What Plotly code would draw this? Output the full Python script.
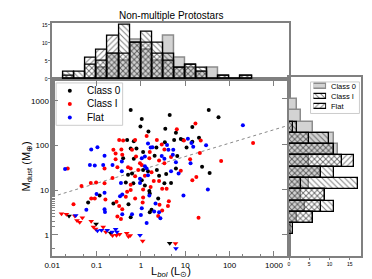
import numpy as np
import plotly.graph_objects as go

# ---------------- data (log10 values) ----------------
class0_logL = [-0.23, 0.02, -0.01, 0.17, 0.55, 0.65, 1.16, 1.53, 1.75, 0.79, 1.31, 0.54, 0.75, 0.90, 0.95,
               1.16, 0.35, 1.03, -0.10, 0.05, 0.31, 0.82, 1.38, 1.55, 0.05, 0.16, 0.57, 0.79, 0.36, -0.31,
               -0.16, -0.23, -0.40, -0.16, -0.29, -0.20, -0.34, -0.17, -0.93, -1.19, -0.62, -0.28, -0.23,
               0.41, 0.68, 0.53, 0.02, 0.09, 0.19, 0.39, 0.24, 0.20, 0.20]
class0_logM = [2.79, 2.59, 2.42, 2.31, 2.37, 2.68, 2.41, 2.79, 2.63, 2.28, 2.17, 2.07, 2.12, 2.14, 2.12,
               2.08, 1.95, 1.95, 1.93, 1.85, 1.77, 1.76, 1.52, 1.38, 1.45, 1.42, 1.36, 1.48, 1.45, 2.12,
               2.09, 1.93, 1.71, 1.70, 1.34, 1.37, 1.17, 1.15, 0.88, 0.72, 0.70, 0.68, 0.39,
               1.32, 1.16, 1.15, 1.22, 1.10, 0.98, 0.81, 0.56, 0.50, 0.92]
class0_lim_logL = [-1.62, -1.01, -0.68, 0.65]
class0_lim_logM = [0.42, 0.24, 0.03, -0.19]

classI_logL = [1.23, 0.81, 0.13, -0.13, 0.36, 0.97, 1.35, 0.47, 0.53, 0.20, -0.11, 0.68, 0.19, 0.41, 1.11,
               1.33, 1.81, -0.02, 0.02, -0.06, 0.24, 0.53, 2.53, -0.49, -0.40, -0.62, -0.57, -0.44, -0.20,
               -0.42, -0.57, -0.82, -1.65, -0.53, -0.29, -0.23, -0.64, -1.01, -1.13, -0.82, -1.34, -0.23,
               -1.12, -1.04, -0.80, -0.31, -0.23, -0.34, -0.55, -0.49, -1.52, -0.42, -0.53, -0.45, -0.13,
               0.09, 0.29, 0.41, 0.22, 0.48, 0.58, 0.05, 0.05, -0.13, 0.04, 0.42, 0.63, 0.61, 0.48, 0.39,
               1.16, 1.25, 1.30, 0.90]
classI_logM = [2.49, 2.36, 2.21, 2.12, 2.12, 2.11, 2.11, 2.02, 1.91, 1.85, 1.75, 1.74, 1.71, 1.66, 1.69,
               1.83, 1.65, 1.60, 1.56, 1.45, 1.40, 1.60, 2.05, 2.12, 2.11, 1.90, 1.82, 1.91, 1.90,
               1.79, 1.69, 1.48, 1.48, 1.51, 1.51, 1.48, 1.27, 1.17, 1.16, 1.15, 1.09, 1.12,
               0.81, 0.81, 0.79, 0.96, 1.00, 0.85, 0.74, 0.64, 0.68, 0.57, 0.41, 0.35, 1.31,
               1.32, 1.20, 1.20, 1.07, 1.03, 1.03, 1.01, 0.83, 0.81, 0.72, 0.67, 0.75, 0.64, 0.54, 0.42,
               1.22, 1.29, 0.38, 1.43]
classI_lim_logL = [-1.79, -1.68, -1.49, -1.44, -1.38, -1.32, -1.12, -1.07, -1.02, -0.85, -0.79, -0.64,
                   -0.55, -0.48, -0.32, -0.28, -0.24, 0.04, 0.78]
classI_lim_logM = [0.47, 0.46, 0.42, 0.32, 0.28, 0.38, 0.30, 0.17, 0.13, 0.17, 0.06, -0.02,
                   -0.01, 0.01, 0.03, -0.04, -0.02, -0.14, -0.20]

flat_logL = [2.30, 1.06, 0.16, 0.22, 0.26, 0.59, 1.14, 1.47, 1.18, 0.62, 0.73, 0.09, 0.02, 0.47, 0.72,
             0.53, 0.79, 1.12, 0.09, 0.13, 0.68, 0.85, -1.12, -0.98, -0.82, -0.43, -1.15, -1.04, -0.85,
             -0.64, -1.71, -0.43, -0.45, -1.00, -0.82, -0.42, -0.47, -1.23, -0.82, -0.81, -0.42, -0.20,
             0.16, -0.02, -0.02, 0.19, 0.33, 0.02, 0.30, 0.41, 0.44, 0.00, 0.13, 0.96, 1.51]
flat_logM = [2.45, 2.15, 2.04, 1.95, 1.96, 2.01, 2.05, 2.00, 1.97, 1.90, 1.90, 1.75, 1.71, 1.76, 1.79,
             1.70, 1.62, 1.60, 1.53, 1.48, 1.42, 1.37, 1.91, 1.96, 1.77, 1.64, 1.56, 1.55, 1.56,
             1.56, 1.47, 1.42, 1.16, 0.91, 0.94, 0.90, 0.86, 0.56, 0.57, 0.51, 0.46, 0.46,
             1.33, 1.25, 1.16, 0.88, 0.70, 0.59, 0.52, 0.50, 0.37, 0.44, 0.26, 0.88, 1.01]
flat_lim_logL = [-1.47, -0.98, -0.89, -0.76, -0.65, -0.57, -0.54, -0.02, 0.79]
flat_lim_logM = [0.43, 0.09, 0.10, 0.10, 0.06, 0.12, 0.06, -0.01, -0.31]

# fit line: log M = a + b log L
fit_intercept = 1.45
fit_slope = 0.30

# histograms (0.25 dex bins)
bin_width = 0.25
lbol_bin_start = -1.75
lbol_hist_class0 = [0, 0, 0, 3, 7, 5, 11, 8, 5, 12, 6, 3, 2, 3, 0, 0, 0]
lbol_hist_classI = [2, 2, 4, 5, 7, 15, 10, 13, 10, 7, 3, 4, 3, 0, 1, 0, 1]
lbol_hist_flat = [1, 0, 6, 8, 12, 7, 10, 10, 7, 5, 3, 4, 2, 0, 1, 0, 1]

mdust_bin_start = 0.0
mdust_hist_class0 = [0, 2, 4, 3, 5, 8, 5, 12, 11, 6, 3, 2]
mdust_hist_classI = [1, 6, 11, 9, 17, 11, 13, 11, 10, 2, 0, 0]
mdust_hist_flat = [0, 6, 8, 9, 3, 8, 16, 11, 5, 1, 0, 0]

class_names = ["Class 0", "Class I", "Flat"]
point_colors = ["black", "#ff0000", "#0000ff"]

x_ticks = [0.01, 0.1, 1, 10, 100, 1000]
x_ticktext = ["0.01", "0.1", "1", "10", "100", "1000"]
y_ticks = [1, 10, 100, 1000]
y_ticktext = ["1", "10", "100", "1000"]

# ---------------- figure ----------------
W, H = 372, 279
XR = [-2, 3.34]
YR = [-0.486, 3.486]
AX = "#808080"
FONT = "Liberation Sans, Arial, sans-serif"


def px(x):
    return x / W


def py(y):
    return 1 - y / H


fig = go.Figure()

xl = np.array(XR)
fig.add_trace(go.Scatter(x=10 ** xl, y=10 ** (fit_intercept + fit_slope * xl), mode="lines",
                         line=dict(color="#888888", width=1, dash="dot"), showlegend=False,
                         hoverinfo="skip", xaxis="x", yaxis="y"))

sets = [(class0_logL, class0_logM, class0_lim_logL, class0_lim_logM),
        (classI_logL, classI_logM, classI_lim_logL, classI_lim_logM),
        (flat_logL, flat_logM, flat_lim_logL, flat_lim_logM)]
for name, col, (lx, ly, llx, lly) in zip(class_names, point_colors, sets):
    fig.add_trace(go.Scatter(x=10 ** np.array(lx), y=10 ** np.array(ly), mode="markers", name=name,
                             marker=dict(color=col, size=4), xaxis="x", yaxis="y", showlegend=False))
    fig.add_trace(go.Scatter(x=10 ** np.array(llx), y=10 ** np.array(lly), mode="markers",
                             marker=dict(color=col, size=5, symbol="triangle-down"),
                             showlegend=False, xaxis="x", yaxis="y"))

lb_centers = lbol_bin_start + bin_width * (np.arange(len(lbol_hist_class0)) + 0.5)
md_centers = mdust_bin_start + bin_width * (np.arange(len(mdust_hist_class0)) + 0.5)

styles = {
    "Class 0": dict(color="#d3d3d3", line=dict(color="#8c8c8c", width=1.5)),
    "Class I": dict(color="rgba(0,0,0,0)", line=dict(color="black", width=1.3),
                    pattern=dict(shape="\\", fgcolor="black", size=4, solidity=0.25, fillmode="overlay")),
    "Flat": dict(color="rgba(0,0,0,0)", line=dict(color="black", width=1.3),
                 pattern=dict(shape="/", fgcolor="black", size=4, solidity=0.25, fillmode="overlay")),
}

for name, top, right in zip(class_names,
                            [lbol_hist_class0, lbol_hist_classI, lbol_hist_flat],
                            [mdust_hist_class0, mdust_hist_classI, mdust_hist_flat]):
    fig.add_trace(go.Bar(x=lb_centers, y=top, width=bin_width, marker=styles[name],
                         showlegend=False, xaxis="x2", yaxis="y2"))
    fig.add_trace(go.Bar(y=md_centers, x=right, width=bin_width, orientation="h", marker=styles[name],
                         showlegend=False, xaxis="x3", yaxis="y3"))

# legend glyphs (histogram legend swatches and scatter legend dots)
legend_rank = [2, 1, 0]
for name, r in zip(class_names, legend_rank):
    fig.add_trace(go.Bar(y=[r], x=[1], width=0.5, orientation="h", marker=styles[name],
                         showlegend=False, hoverinfo="skip", xaxis="x4", yaxis="y4"))
fig.add_trace(go.Scatter(x=[0.5, 0.5, 0.5], y=legend_rank, mode="markers",
                         marker=dict(color=point_colors, size=4), showlegend=False,
                         hoverinfo="skip", xaxis="x5", yaxis="y5"))

main_x_dom = [px(37), px(279)]
main_y_dom = [py(251), py(71)]
hidden = dict(visible=False, showgrid=False, zeroline=False, fixedrange=True)

annotations = [
    dict(text="Non-multiple Protostars", x=px(158), y=py(7), font=dict(size=10)),
    dict(text="L<sub><i>bol</i></sub> (L<sub>⊙</sub>)", x=px(158), y=py(266.5), font=dict(size=11)),
    dict(text="M<sub>dust</sub> (M<sub>⊕</sub>)", x=px(11), y=py(160), font=dict(size=11), textangle=-90),
]
for name, yc in zip(class_names, [82.3, 95.7, 110]):
    annotations.append(dict(text=name, x=px(71), y=py(yc), xanchor="left", font=dict(size=10)))
for name, yc in zip(class_names, [78.3, 89, 99.3]):
    annotations.append(dict(text=name, x=px(320), y=py(yc), xanchor="left", font=dict(size=7.5)))
for a in annotations:
    a.update(xref="paper", yref="paper", showarrow=False)
    a.setdefault("xanchor", "center")
    a.setdefault("yanchor", "middle")

shapes = [
    dict(type="rect", xref="paper", yref="paper", x0=px(41), x1=px(109), y0=py(118), y1=py(75),
         line=dict(color="#cccccc", width=1), fillcolor="white", layer="below"),
    dict(type="rect", xref="paper", yref="paper", x0=px(301), x1=px(351), y0=py(106), y1=py(74),
         line=dict(color="#cccccc", width=1), fillcolor="white", layer="below"),
]

fig.update_layout(
    width=W, height=H, autosize=False,
    margin=dict(l=0, r=0, t=0, b=0),
    paper_bgcolor="white", plot_bgcolor="rgba(0,0,0,0)",
    font=dict(family=FONT, size=8, color="black"),
    barmode="overlay", bargap=0, showlegend=False,
    xaxis=dict(type="log", range=XR, domain=main_x_dom, anchor="y",
               tickvals=x_ticks, ticktext=x_ticktext, ticks="inside", ticklen=6, tickcolor=AX,
               minor=dict(ticks="inside", ticklen=3, tickcolor=AX, showgrid=False),
               showline=True, linecolor=AX, linewidth=1.5, mirror=True, showgrid=False, zeroline=False,
               tickfont=dict(size=8)),
    yaxis=dict(type="log", range=YR, domain=main_y_dom, anchor="x",
               tickvals=y_ticks, ticktext=y_ticktext, ticks="inside", ticklen=6, tickcolor=AX,
               minor=dict(ticks="inside", ticklen=3, tickcolor=AX, showgrid=False),
               showline=True, linecolor=AX, linewidth=1.5, mirror=True, showgrid=False, zeroline=False,
               tickfont=dict(size=8)),
    xaxis2=dict(range=XR, domain=main_x_dom, anchor="y2", tickvals=[-1, 0, 1, 2, 3],
                ticks="outside", ticklen=5, tickcolor=AX, showticklabels=False,
                showline=True, linecolor=AX, linewidth=1.5, mirror=True, showgrid=False, zeroline=False),
    yaxis2=dict(range=[0, 15.6], domain=[py(71), py(14)], anchor="x2",
                tickvals=[0, 5, 10, 15], ticks="outside", ticklen=2, tickcolor=AX, tickfont=dict(size=5),
                showline=True, linecolor=AX, linewidth=1.5, mirror=True, showgrid=False, zeroline=False),
    xaxis3=dict(range=[0, 17.9], domain=[px(279), px(353)], anchor="y3",
                tickvals=[0, 5, 10, 15], ticks="outside", ticklen=2, tickcolor=AX, tickfont=dict(size=5),
                showline=True, linecolor=AX, linewidth=1.5, mirror=True, showgrid=False, zeroline=False),
    yaxis3=dict(range=YR, domain=[py(251), py(69)], anchor="x3",
                tickvals=[0, 1, 2, 3], ticks="outside", ticklen=5, tickcolor=AX, showticklabels=False,
                showline=True, linecolor=AX, linewidth=1.5, mirror=True, showgrid=False, zeroline=False),
    xaxis4=dict(range=[0, 1], domain=[px(304), px(317)], anchor="y4", **hidden),
    yaxis4=dict(range=[-0.5, 2.5], domain=[py(104), py(73)], anchor="x4", **hidden),
    xaxis5=dict(range=[0, 1], domain=[px(50), px(60)], anchor="y5", **hidden),
    yaxis5=dict(range=[-0.5, 2.5], domain=[py(117), py(76)], anchor="x5", **hidden),
    annotations=annotations,
    shapes=shapes,
)

fig.write_html("out.html")
